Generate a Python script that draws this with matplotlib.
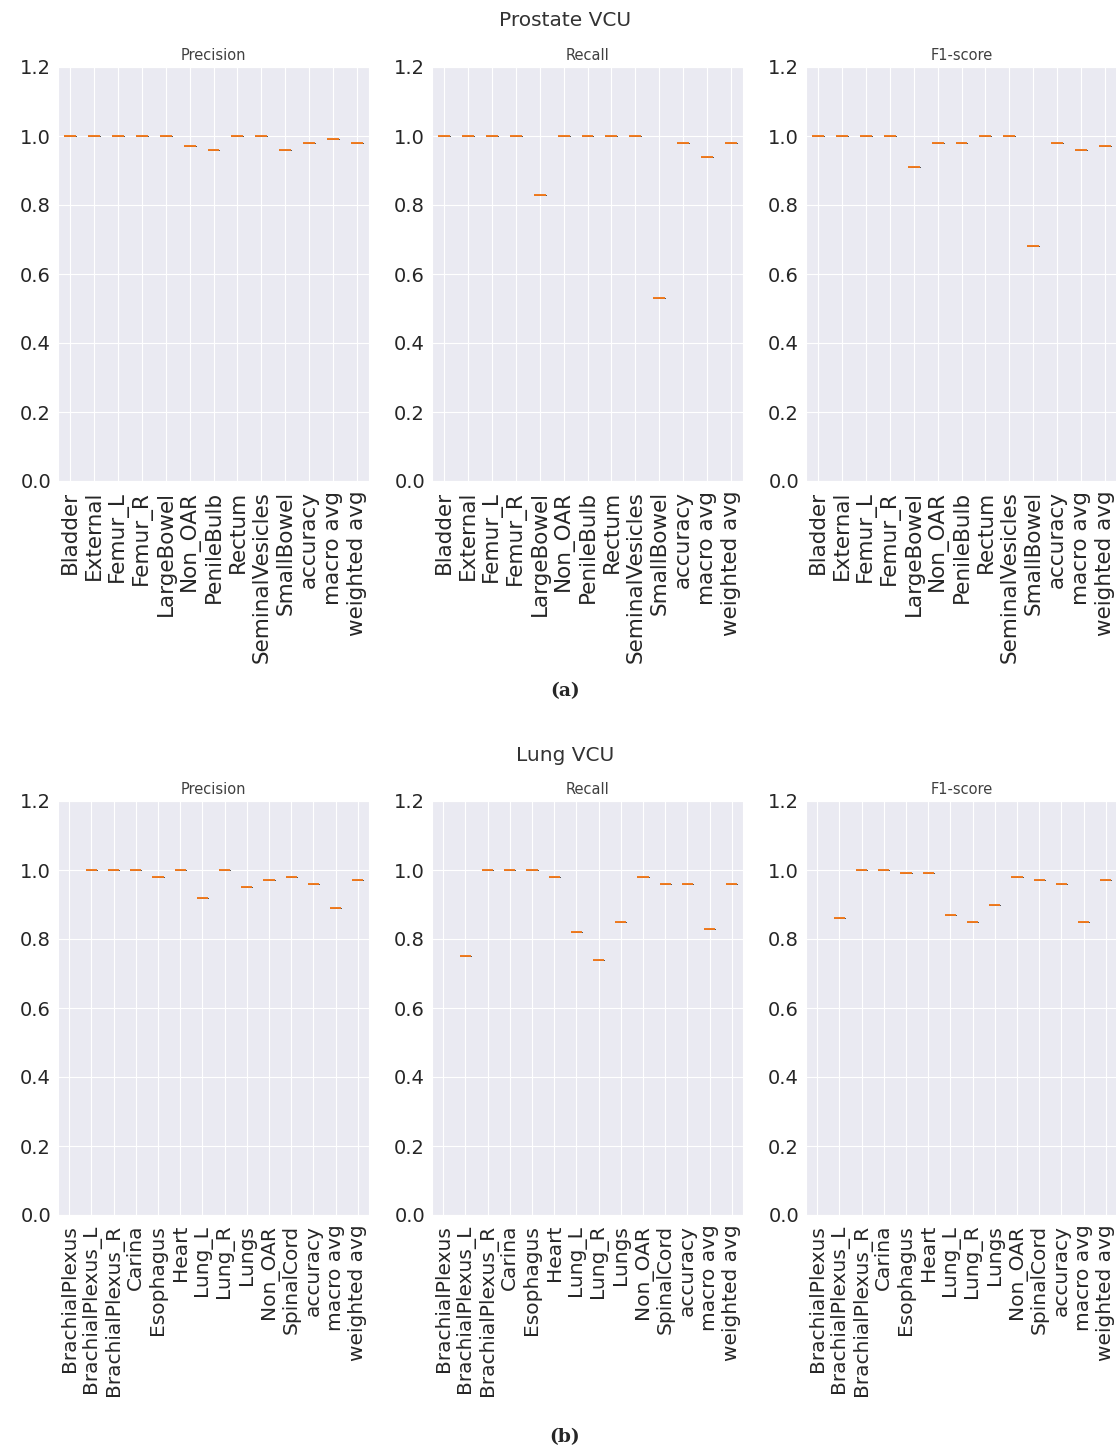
import numpy as np
import matplotlib
matplotlib.use("Agg")
import matplotlib.pyplot as plt
import seaborn as sns

sns.set_style("darkgrid")
plt.rcParams['font.family'] = ['DejaVu Sans']

metrics = ["Precision", "Recall", "F1-score"]

prostate_labels = ["Bladder", "External", "Femur_L", "Femur_R", "LargeBowel", "Non_OAR",
                   "PenileBulb", "Rectum", "SeminalVesicles", "SmallBowel",
                   "accuracy", "macro avg", "weighted avg"]
prostate_precision = [1.00, 1.00, 1.00, 1.00, 1.00, 0.97, 0.96, 1.00, 1.00, 0.96, 0.98, 0.99, 0.98]
prostate_recall = [1.00, 1.00, 1.00, 1.00, 0.83, 1.00, 1.00, 1.00, 1.00, 0.53, 0.98, 0.94, 0.98]
prostate_f1 = [1.00, 1.00, 1.00, 1.00, 0.91, 0.98, 0.98, 1.00, 1.00, 0.68, 0.98, 0.96, 0.97]

lung_labels = ["BrachialPlexus", "BrachialPlexus_L", "BrachialPlexus_R", "Carina", "Esophagus",
               "Heart", "Lung_L", "Lung_R", "Lungs", "Non_OAR", "SpinalCord",
               "accuracy", "macro avg", "weighted avg"]
lung_precision = [None, 1.00, 1.00, 1.00, 0.98, 1.00, 0.92, 1.00, 0.95, 0.97, 0.98, 0.96, 0.89, 0.97]
lung_recall = [None, 0.75, 1.00, 1.00, 1.00, 0.98, 0.82, 0.74, 0.85, 0.98, 0.96, 0.96, 0.83, 0.96]
lung_f1 = [None, 0.86, 1.00, 1.00, 0.99, 0.99, 0.87, 0.85, 0.90, 0.98, 0.97, 0.96, 0.85, 0.97]

W, H = 1116, 1450
fig = plt.figure(figsize=(W / 100, H / 100), dpi=100)

col_left = [58, 432, 806]
ax_w = 311
ax_h = 414


def draw_row(top, labels, series, title, caption, title_y, caption_y, xfs):
    for k in range(3):
        ax = fig.add_axes([col_left[k] / W, 1 - (top + ax_h) / H, ax_w / W, ax_h / H])
        data = [[v] if v is not None else [] for v in series[k]]
        ax.boxplot(data, widths=0.5,
                   medianprops=dict(color="#f07a1e", lw=1.4),
                   boxprops=dict(color="#555555", lw=0.6),
                   whiskerprops=dict(lw=0.6), capprops=dict(lw=0.6))
        ax.set_xticks(range(1, len(labels) + 1))
        ax.set_xticklabels(labels, rotation=90, fontsize=xfs, color="#262626")
        ax.set_xlim(0.5, len(labels) + 0.5)
        ax.set_ylim(0, 1.2)
        ax.set_yticks(np.arange(0, 1.21, 0.2))
        ax.set_yticklabels(["%.1f" % t for t in np.arange(0, 1.21, 0.2)], fontsize=14, color="#262626")
        ax.tick_params(axis="x", length=0, pad=7)
        ax.tick_params(axis="y", length=0, pad=5)
        ax.set_title(metrics[k], fontsize=10.5, color="#404040", pad=5)
    fig.text(0.506, 1 - title_y / H, title, ha="center", va="center", fontsize=14.5, color="#333333")
    fig.text(0.506, 1 - caption_y / H, caption, ha="center", va="center", fontsize=13.5,
             fontweight="bold", family="DejaVu Serif")


draw_row(67, prostate_labels, [prostate_precision, prostate_recall, prostate_f1],
         "Prostate VCU", "(a)", 20, 691, 15.5)
draw_row(801, lung_labels, [lung_precision, lung_recall, lung_f1],
         "Lung VCU", "(b)", 755, 1437, 14.5)

fig.savefig("out.png", dpi=100)
